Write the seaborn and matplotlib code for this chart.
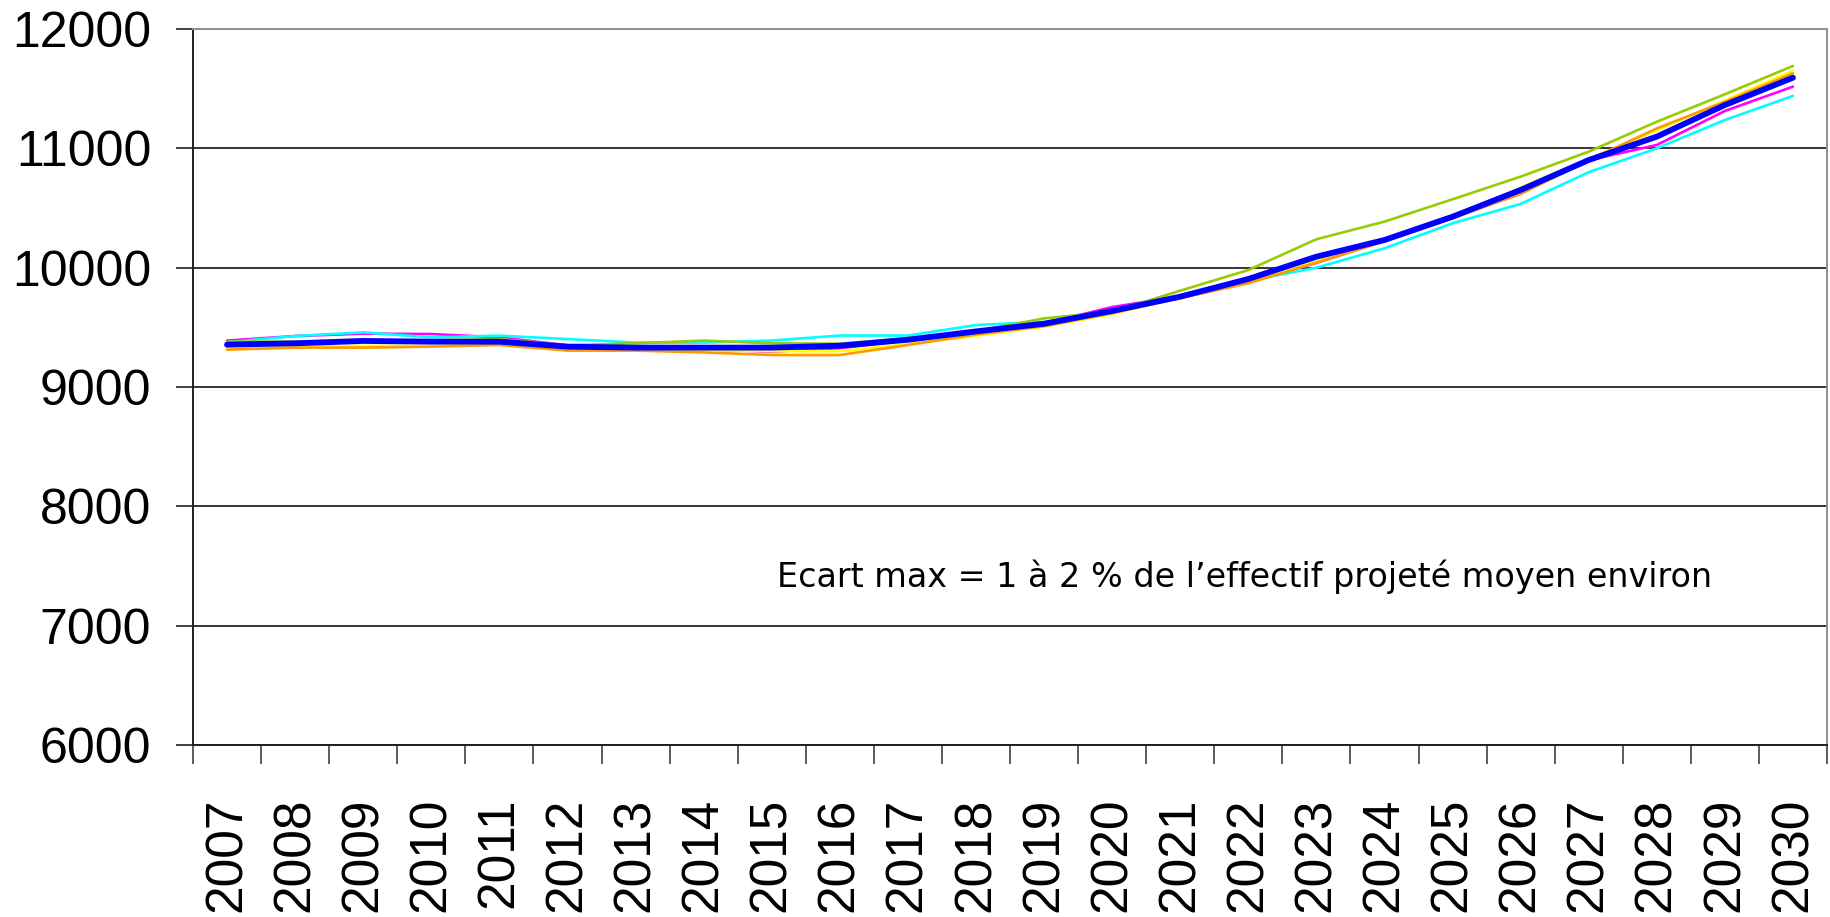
import numpy as np
import pandas as pd
import matplotlib
matplotlib.use('Agg')
import matplotlib.pyplot as plt
import seaborn as sns

years = [str(y) for y in range(2007, 2031)]

magenta = [9389, 9427, 9447, 9444, 9416, 9350, 9330, 9316, 9296, 9325, 9390, 9460,
           9530, 9670, 9760, 9880, 10040, 10225, 10435, 10660, 10900, 11028, 11313, 11517]
cyan = [9375, 9427, 9458, 9416, 9430, 9402, 9372, 9372, 9389, 9431, 9431, 9519,
        9545, 9630, 9745, 9890, 10000, 10162, 10372, 10534, 10800, 11000, 11238, 11439]
green = [9380, 9380, 9390, 9390, 9402, 9350, 9366, 9389, 9366, 9363, 9410, 9466,
         9575, 9630, 9807, 9980, 10238, 10386, 10573, 10763, 10972, 11223, 11453, 11690]
yellow = [9333, 9340, 9345, 9344, 9360, 9320, 9320, 9310, 9300, 9300, 9360, 9430,
          9505, 9610, 9750, 9880, 10065, 10240, 10420, 10670, 10910, 11150, 11400, 11650]
orange = [9313, 9330, 9330, 9338, 9352, 9305, 9305, 9290, 9268, 9268, 9352, 9440,
          9510, 9620, 9745, 9869, 10042, 10220, 10415, 10617, 10900, 11167, 11390, 11629]
mean_line = [9355, 9366, 9386, 9380, 9380, 9338, 9330, 9330, 9330, 9346, 9396, 9466,
             9530, 9637, 9757, 9905, 10092, 10232, 10427, 10651, 10902, 11098, 11363, 11592]

y_ticks = [6000, 7000, 8000, 9000, 10000, 11000, 12000]
note = "Ecart max = 1 à 2 % de l\u2019effectif projeté moyen environ"

sns.set_style('white')
plt.rcParams['font.family'] = ['Liberation Sans', 'DejaVu Sans']
plt.rcParams['text.color'] = 'black'
plt.rcParams['xtick.color'] = 'black'
plt.rcParams['ytick.color'] = 'black'

fig = plt.figure(figsize=(18.3, 9.17), dpi=100)
ax = fig.add_axes([193 / 1830, 1 - 745 / 917, 1634 / 1830, (745 - 29) / 917])

x = np.arange(len(years))
series = [(magenta, '#FF00FF'), (cyan, '#00FFFF'), (green, '#99CC00'),
          (yellow, '#FFFF00'), (orange, '#FF9900')]
for vals, col in series:
    sns.lineplot(x=x, y=vals, color=col, lw=1.9, ax=ax, zorder=3)
sns.lineplot(x=x, y=mean_line, color='#0000FF', lw=4.2, ax=ax, zorder=4)

ax.set_xlim(-0.5, len(years) - 0.5)
ax.set_ylim(6000, 12000)
ax.set_yticks(y_ticks)
ax.set_yticklabels([str(t) for t in y_ticks], fontsize=36)
ax.set_xticks(x)
ax.set_xticklabels(years, rotation=90, fontsize=37)
ax.set_xticks(np.arange(len(years) + 1) - 0.5, minor=True)
ax.tick_params(axis='x', which='major', length=0, pad=38)
ax.tick_params(axis='x', which='minor', length=13.5, width=1.2, color='#404040', direction='out', bottom=True)
ax.tick_params(axis='y', which='major', length=12, width=1.2, color='#202020', direction='out', left=True, pad=18)

ax.grid(axis='y', color='black', lw=1.1)
ax.grid(axis='x', visible=False)
ax.set_axisbelow(True)

ax.spines['left'].set_color('#202020')
ax.spines['bottom'].set_color('#202020')
ax.spines['top'].set_color('#909090')
ax.spines['right'].set_color('#909090')
for s in ax.spines.values():
    s.set_linewidth(1.4)

ax.set_xlabel('')
ax.set_ylabel('')

ax.text(8.08, 7324, note, fontsize=24, family='DejaVu Sans', color='black',
        va='baseline', ha='left')

fig.savefig('out.png', dpi=100)
